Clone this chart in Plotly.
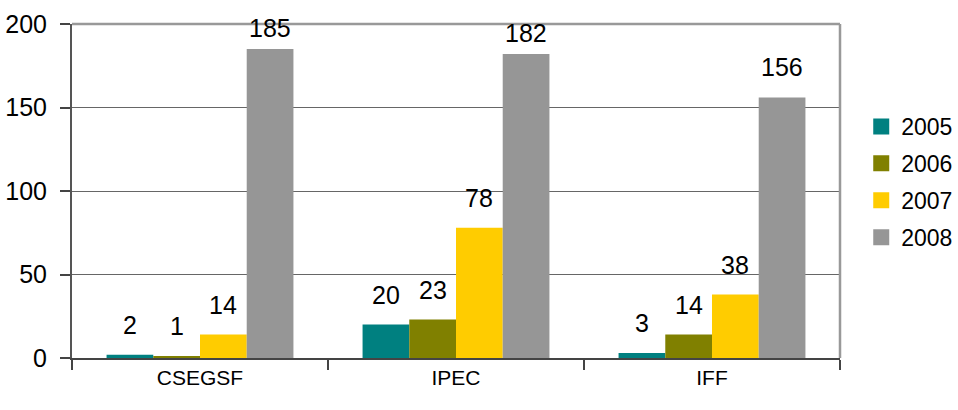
import plotly.graph_objects as go

categories = ["CSEGSF", "IPEC", "IFF"]
years = ["2005", "2006", "2007", "2008"]
values_2005 = [2, 20, 3]
values_2006 = [1, 23, 14]
values_2007 = [14, 78, 38]
values_2008 = [185, 182, 156]
series = [values_2005, values_2006, values_2007, values_2008]
colors = ["#008080", "#808000", "#FFCC00", "#969696"]

FONT = "Liberation Sans, Arial, sans-serif"

W, H = 958, 410
ML, MR, MT, MB = 72, 118, 24, 52
BARGAP = 0.27
plot_w = W - ML - MR
cat_px = plot_w / len(categories)
bar_px = cat_px * (1 - BARGAP) / len(years)

fig = go.Figure()
for year, vals, col in zip(years, series, colors):
    fig.add_trace(go.Bar(
        x=categories, y=vals, name=year,
        marker=dict(color=col, line=dict(width=0)),
        showlegend=False,
    ))
    # legend entry with a larger square swatch
    fig.add_trace(go.Scatter(
        x=[None], y=[None], mode="markers", name=year, legendgroup=year,
        marker=dict(symbol="square", size=19, color=col, line=dict(width=0)),
    ))

# value labels above each bar
for i, vals in enumerate(series):
    for cat, v in zip(categories, vals):
        fig.add_annotation(
            x=cat, y=v, xref="x", yref="y", text=str(v), showarrow=False,
            xanchor="center", yanchor="bottom",
            xshift=(i - 1.5) * bar_px, yshift=14 if v < 170 else 5,
            font=dict(family=FONT, size=25, color="#000000"),
        )

fig.update_layout(
    width=W, height=H,
    margin=dict(l=ML, r=MR, t=MT, b=MB, autoexpand=False),
    paper_bgcolor="white", plot_bgcolor="white",
    barmode="group", bargap=BARGAP, bargroupgap=0,
    font=dict(family=FONT, size=21, color="#000000"),
    showlegend=True,
    legend=dict(
        xref="container", yref="container",
        x=0.899, xanchor="left", y=1 - 182 / H, yanchor="middle",
        font=dict(family=FONT, size=23, color="#000000"),
        tracegroupgap=4, traceorder="grouped",
        bgcolor="rgba(0,0,0,0)", itemwidth=30,
    ),
)

fig.update_xaxes(
    type="category", tickson="boundaries", ticks="outside", ticklen=10,
    tickcolor="#444444", tickwidth=1.5,
    showline=True, linecolor="#444444", linewidth=2,
    showgrid=False, automargin=False,
    tickfont=dict(family=FONT, size=21),
)
fig.update_yaxes(
    range=[0, 200], tickvals=[0, 50, 100, 150, 200],
    ticks="outside", ticklen=10, tickcolor="#444444", tickwidth=1.5,
    showline=True, linecolor="#555555", linewidth=2,
    showgrid=True, gridcolor="#666666", gridwidth=1,
    zeroline=False, automargin=False, ticklabelstandoff=8,
    tickfont=dict(family=FONT, size=25),
)

# gray frame on the top and right edges of the plot area
fig.add_shape(type="line", xref="paper", yref="paper", x0=0, x1=1, y0=1, y1=1,
              line=dict(color="#999999", width=2.5))
fig.add_shape(type="line", xref="paper", yref="paper", x0=1, x1=1, y0=0, y1=1,
              line=dict(color="#999999", width=2.5))

fig.write_html("out.html")
